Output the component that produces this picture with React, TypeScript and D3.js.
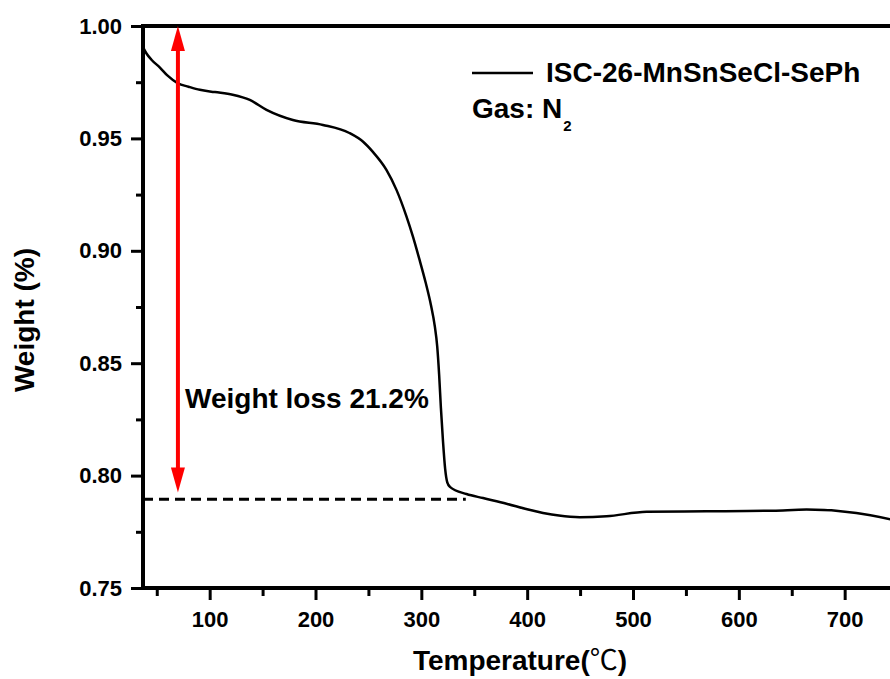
import * as d3 from "d3";
import React, { useEffect, useRef } from "react";

// TGA curve
const temps = [37, 40, 45, 53, 60, 70, 80, 90.7, 105, 121.7, 137.9, 153.7, 178.6, 207, 232, 245, 254, 267, 276.5, 286, 292, 298, 304, 309, 312.7, 315, 316.8, 318.5, 320.5, 322.5, 324.5, 327, 342.7, 358.3, 380.5, 400, 415, 430, 449.8, 475, 512.8, 569.4, 632.4, 664, 711, 745];
const weights = [0.9906, 0.988, 0.985, 0.9815, 0.978, 0.9745, 0.973, 0.9716, 0.9706, 0.9694, 0.9671, 0.9627, 0.9582, 0.956, 0.9524, 0.9485, 0.9441, 0.936, 0.9271, 0.9152, 0.9064, 0.8965, 0.886, 0.876, 0.8665, 0.8575, 0.845, 0.83, 0.815, 0.803, 0.797, 0.795, 0.7918, 0.79, 0.7875, 0.785, 0.7834, 0.7822, 0.7815, 0.7819, 0.7839, 0.7841, 0.7844, 0.7849, 0.7834, 0.7804];

const xMajor = [100, 200, 300, 400, 500, 600, 700];
const xMinor = [50, 150, 250, 350, 450, 550, 650];
const yMajor = [0.75, 0.8, 0.85, 0.9, 0.95, 1.0];
const yMinor = [0.775, 0.825, 0.875, 0.925, 0.975];

const seriesName = "ISC-26-MnSnSeCl-SePh";
const lossLabel = "Weight loss 21.2%";
const arrowTemp = 70;
const arrowFrom = 1.0;
const arrowTo = 0.7925;
const residual = 0.7895;
const residualEnd = 342;

const FONT = "'Liberation Sans', Arial, sans-serif";

const App = () => {
  const svgRef = useRef(null);

  useEffect(() => {
    const svg = d3.select(svgRef.current);
    svg.selectAll("*").remove();

    const x = d3.scaleLinear().domain([37, 800]).range([143, 950.5]);
    const y = d3.scaleLinear().domain([0.75, 1.0]).range([588, 26]);

    const g = svg.append("g").attr("font-family", FONT).attr("font-weight", "bold");

    // frame lines
    g.append("line")
      .attr("x1", x(37)).attr("x2", x(37))
      .attr("y1", y(1.0) - 2).attr("y2", y(0.75) + 2)
      .attr("stroke", "#000").attr("stroke-width", 4);
    g.append("line")
      .attr("x1", x(37) - 2).attr("x2", x(800))
      .attr("y1", y(0.75)).attr("y2", y(0.75))
      .attr("stroke", "#000").attr("stroke-width", 4);
    g.append("line")
      .attr("x1", x(37) - 2).attr("x2", x(800))
      .attr("y1", y(1.0)).attr("y2", y(1.0))
      .attr("stroke", "#000").attr("stroke-width", 4);

    // y axis
    const yAxis = g.append("g")
      .attr("transform", `translate(${x(37)},0)`)
      .call(d3.axisLeft(y).tickValues(yMajor).tickSize(12).tickPadding(9).tickFormat(d3.format(".2f")));
    yAxis.select(".domain").remove();
    yAxis.selectAll("line").attr("stroke-width", 3);
    yAxis.selectAll("text").attr("font-size", 22).attr("font-family", FONT).attr("fill", "#000");
    yAxis.attr("font-family", null).attr("font-size", null);
    const yMin = g.append("g")
      .attr("transform", `translate(${x(37)},0)`)
      .call(d3.axisLeft(y).tickValues(yMinor).tickSize(7).tickFormat(() => ""));
    yMin.select(".domain").remove();
    yMin.selectAll("line").attr("stroke-width", 3);

    // x axis
    const xAxis = g.append("g")
      .attr("transform", `translate(0,${y(0.75)})`)
      .call(d3.axisBottom(x).tickValues(xMajor).tickSize(12).tickPadding(11));
    xAxis.select(".domain").remove();
    xAxis.selectAll("line").attr("stroke-width", 3);
    xAxis.selectAll("text").attr("font-size", 22).attr("font-family", FONT).attr("fill", "#000");
    xAxis.attr("font-family", null).attr("font-size", null);
    const xMin = g.append("g")
      .attr("transform", `translate(0,${y(0.75)})`)
      .call(d3.axisBottom(x).tickValues(xMinor).tickSize(8).tickFormat(() => ""));
    xMin.select(".domain").remove();
    xMin.selectAll("line").attr("stroke-width", 3);

    // axis titles
    const xt = g.append("text")
      .attr("x", 520).attr("y", 670)
      .attr("text-anchor", "middle")
      .attr("font-size", 28);
    xt.append("tspan").text("Temperature(");
    xt.append("tspan").attr("font-family", "'Noto Sans CJK SC'").attr("font-weight", "normal").text("℃");
    xt.append("tspan").text(")");

    g.append("text")
      .attr("transform", `translate(34,320) rotate(-90)`)
      .attr("text-anchor", "middle")
      .attr("font-size", 28)
      .text("Weight (%)");

    // residual dashed line
    g.append("line")
      .attr("x1", x(37)).attr("x2", x(residualEnd))
      .attr("y1", y(residual)).attr("y2", y(residual))
      .attr("stroke", "#000").attr("stroke-width", 3)
      .attr("stroke-dasharray", "10,6");

    // curve
    const pts = temps.map((t, i) => [t, weights[i]]);
    const line = d3.line()
      .x((d) => x(d[0]))
      .y((d) => y(d[1]))
      .curve(d3.curveMonotoneX);
    g.append("path")
      .datum(pts)
      .attr("fill", "none")
      .attr("stroke", "#000")
      .attr("stroke-width", 2.5)
      .attr("d", line);

    // red double arrow
    const ax = x(arrowTemp);
    const yTop = y(arrowFrom);
    const yBot = y(arrowTo);
    const headL = 25;
    const headW = 7;
    g.append("line")
      .attr("x1", ax).attr("x2", ax)
      .attr("y1", yTop + headL - 2).attr("y2", yBot - headL + 2)
      .attr("stroke", "#ff0000").attr("stroke-width", 4);
    g.append("path")
      .attr("d", `M${ax},${yTop} L${ax - headW},${yTop + headL} L${ax + headW},${yTop + headL} Z`)
      .attr("fill", "#ff0000");
    g.append("path")
      .attr("d", `M${ax},${yBot} L${ax - headW},${yBot - headL} L${ax + headW},${yBot - headL} Z`)
      .attr("fill", "#ff0000");

    g.append("text")
      .attr("x", 185).attr("y", 408)
      .attr("font-size", 28)
      .text(lossLabel);

    // legend
    g.append("line")
      .attr("x1", 472).attr("x2", 533)
      .attr("y1", 73).attr("y2", 73)
      .attr("stroke", "#000").attr("stroke-width", 2.5);
    g.append("text")
      .attr("x", 546).attr("y", 82)
      .attr("font-size", 28)
      .text(seriesName);
    const gas = g.append("text")
      .attr("x", 472).attr("y", 118)
      .attr("font-size", 28);
    gas.append("tspan").text("Gas: N");
    gas.append("tspan").attr("font-size", 15).attr("dy", 13).attr("dx", 1).text("2");

    return () => {
      d3.select(svgRef.current).selectAll("*").remove();
    };
  }, []);

  return (
    <svg
      ref={svgRef}
      width={890}
      height={679}
      style={{ position: "absolute", left: 0, top: 0, background: "#fff", overflow: "hidden" }}
    ></svg>
  );
};

export default App;
